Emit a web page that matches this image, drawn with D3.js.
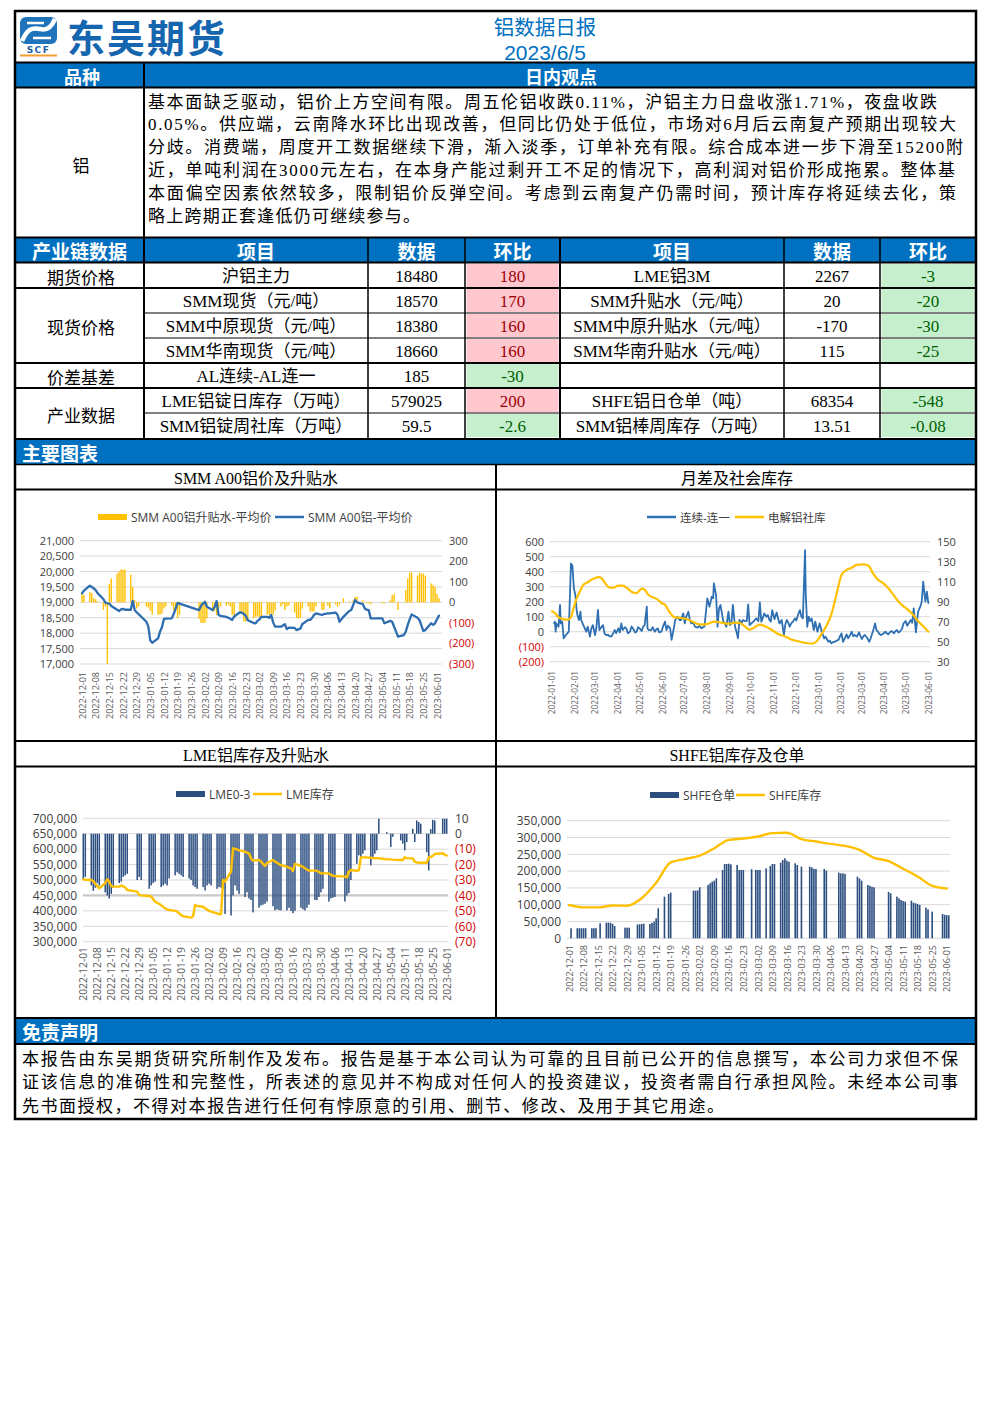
<!DOCTYPE html>
<html><head><meta charset="utf-8"><title>铝数据日报</title>
<script src="https://cdn.jsdelivr.net/npm/d3@7/dist/d3.min.js"></script>
<style>html,body{margin:0;padding:0;background:#fff;}svg{display:block}</style>
</head><body>
<svg id="page" width="992" height="1403"></svg>
<script>
// ================= DATA =================
const companyName = "东吴期货";
const reportTitle = "铝数据日报";
const reportDate = "2023/6/5";
const viewHeaders = ["品种", "日内观点"];
const viewVariety = "铝";
const viewLines = [
  "基本面缺乏驱动，铝价上方空间有限。周五伦铝收跌0.11%，沪铝主力日盘收涨1.71%，夜盘收跌",
  "0.05%。供应端，云南降水环比出现改善，但同比仍处于低位，市场对6月后云南复产预期出现较大",
  "分歧。消费端，周度开工数据继续下滑，渐入淡季，订单补充有限。综合成本进一步下滑至15200附",
  "近，单吨利润在3000元左右，在本身产能过剩开工不足的情况下，高利润对铝价形成拖累。整体基",
  "本面偏空因素依然较多，限制铝价反弹空间。考虑到云南复产仍需时间，预计库存将延续去化，策",
  "略上跨期正套逢低仍可继续参与。"
];
const tableHeaders = ["产业链数据", "项目", "数据", "环比", "项目", "数据", "环比"];
const groupLabels = ["期货价格", "现货价格", "价差基差", "产业数据"];
const groupSpans = [1, 3, 1, 2];
const itemsLeft = ["沪铝主力", "SMM现货（元/吨）", "SMM中原现货（元/吨）", "SMM华南现货（元/吨）", "AL连续-AL连一", "LME铝锭日库存（万吨）", "SMM铝锭周社库（万吨）"];
const valuesLeft = ["18480", "18570", "18380", "18660", "185", "579025", "59.5"];
const changesLeft = ["180", "170", "160", "160", "-30", "200", "-2.6"];
const itemsRight = ["LME铝3M", "SMM升贴水（元/吨）", "SMM中原升贴水（元/吨）", "SMM华南升贴水（元/吨）", "", "SHFE铝日仓单（吨）", "SMM铝棒周库存（万吨）"];
const valuesRight = ["2267", "20", "-170", "115", "", "68354", "13.51"];
const changesRight = ["-3", "-20", "-30", "-25", "", "-548", "-0.08"];
const sectionCharts = "主要图表";
const chartTitles = ["SMM A00铝价及升贴水", "月差及社会库存", "LME铝库存及升贴水", "SHFE铝库存及仓单"];
const disclaimerTitle = "免责声明";
const disclaimerLines = [
  "本报告由东吴期货研究所制作及发布。报告是基于本公司认为可靠的且目前已公开的信息撰写，本公司力求但不保",
  "证该信息的准确性和完整性，所表述的意见并不构成对任何人的投资建议，投资者需自行承担风险。未经本公司事",
  "先书面授权，不得对本报告进行任何有悖原意的引用、删节、修改、及用于其它用途。"
];

// trading calendars (weekdays minus exchange holidays)
const cnHolidays = ["2023-01-02","2023-01-23","2023-01-24","2023-01-25","2023-01-26","2023-01-27","2023-04-05","2023-05-01","2023-05-02","2023-05-03"];
const ukHolidays = ["2022-12-26","2022-12-27","2023-01-02","2023-04-07","2023-04-10","2023-05-01","2023-05-08","2023-05-29"];

// Chart 1: SMM A00 price (yuan/t) and premium, China trading days 2022-12-01 .. 2023-06-02
const c1Legend = ["SMM A00铝升贴水-平均价", "SMM A00铝-平均价"];
const c1Price = [
  // Dec
  19290,19380,19540,19500,19450,19400,19300,19100,18990,18970,18960,18880,18760,18720,18770,18790,18760,18760,19050,18750,18680,18620,
  // Jan
  18370,18220,17760,17690,17830,18050,18200,18460,18470,18480,18620,18800,18980,18960,18750,18880,
  // Feb
  18960,19020,18860,18750,18850,19040,18600,18560,18530,18500,18470,18430,18540,18680,18660,18620,18560,18420,18330,18320,
  // Mar
  18400,18450,18530,18530,18500,18590,18350,18210,18210,18250,18290,18130,18180,18170,18100,18130,18150,18300,18430,18430,18500,18600,18640,
  // Apr
  18590,18620,18640,18640,18670,18600,18370,18450,18530,18720,18750,18900,19080,19000,18940,18800,18760,18750,18480,
  // May
  18480,18320,18400,18370,18210,18050,17890,17940,18050,18270,18450,18610,18500,18430,18250,18070,18100,18320,18270,18320,
  // Jun
  18450,18570
];
const c1Premium = [
  45,35,50,45,20,15,5,-37,-20,-300,90,116,140,150,160,160,160,135,75,10,-30,-20,
  -20,-25,-40,-60,-60,-60,-55,-30,-20,-15,-37,-40,-77,-60,-80,-100,
  -100,-100,-77,-45,-40,-62,-30,-20,-15,-10,-21,-62,-62,-40,-50,-93,-93,-90,-77,-70,
  -70,-70,-70,-60,-60,-55,-60,-40,-20,-10,-37,-20,-15,-50,-77,-77,-75,-30,-20,-45,-45,-45,-20,
  -37,-37,-15,-29,-10,-21,-10,0,20,5,0,10,27,27,10,0,-5,-5,-10,
  -5,-5,10,35,40,0,-37,0,60,116,145,145,130,145,140,140,130,92,85,75,
  40,20
];
const c1LeftTicks = [17000,17500,18000,18500,19000,19500,20000,20500,21000];
const c1RightTicks = [-300,-200,-100,0,100,200,300];

// Chart 2: month spread (left) and social inventory (right, 10k t)
const c2Legend = ["连续-连一", "电解铝社库"];
const c2Spread = [
  ["2022-01-04",55],["2022-01-05",67],["2022-01-06",0],["2022-01-07",55],["2022-01-10",33],["2022-01-12",178],["2022-01-13",55],["2022-01-15",67],
  ["2022-01-17",-44],["2022-01-20",-22],["2022-01-22",-11],["2022-01-24",0],["2022-01-27",455],["2022-01-29",440],["2022-01-31",290],["2022-02-02",245],
  ["2022-02-04",133],["2022-02-05",110],["2022-02-07",78],["2022-02-09",133],["2022-02-10",78],["2022-02-13",44],["2022-02-15",22],["2022-02-17",0],
  ["2022-02-19",33],["2022-02-22",-33],["2022-02-24",22],["2022-02-26",44],["2022-03-01",-22],["2022-03-03",33],["2022-03-05",145],["2022-03-07",11],
  ["2022-03-10",33],["2022-03-12",44],["2022-03-14",-11],["2022-03-16",-22],["2022-03-19",-22],["2022-03-21",-30],["2022-03-23",-33],["2022-03-25",-20],
  ["2022-03-28",11],["2022-03-30",-10],["2022-04-02",22],["2022-04-04",-5],["2022-04-06",55],["2022-04-08",11],["2022-04-11",30],["2022-04-13",22],
  ["2022-04-15",-10],["2022-04-18",0],["2022-04-20",35],["2022-04-22",22],["2022-04-25",-5],["2022-04-27",0],["2022-04-29",30],["2022-05-01",22],
  ["2022-05-04",5],["2022-05-06",33],["2022-05-08",44],["2022-05-11",167],["2022-05-12",20],["2022-05-14",11],["2022-05-17",11],["2022-05-19",30],
  ["2022-05-22",0],["2022-05-24",15],["2022-05-26",22],["2022-05-28",-5],["2022-05-31",0],["2022-06-02",30],["2022-06-05",67],["2022-06-07",11],
  ["2022-06-09",40],["2022-06-12",22],["2022-06-14",-55],["2022-06-17",22],["2022-06-19",78],["2022-06-22",100],["2022-06-25",78],["2022-06-27",78],
  ["2022-06-30",122],["2022-07-02",55],["2022-07-04",100],["2022-07-07",133],["2022-07-09",78],["2022-07-11",55],["2022-07-14",60],["2022-07-16",33],
  ["2022-07-20",27],["2022-07-22",40],["2022-07-25",22],["2022-07-27",30],["2022-07-29",33],["2022-08-02",222],["2022-08-05",167],["2022-08-08",233],
  ["2022-08-10",222],["2022-08-11",322],["2022-08-14",244],["2022-08-16",33],["2022-08-18",155],["2022-08-20",178],["2022-08-24",67],["2022-08-26",55],
  ["2022-08-28",33],["2022-08-31",133],["2022-09-02",44],["2022-09-04",55],["2022-09-06",178],["2022-09-09",33],["2022-09-11",0],["2022-09-13",-44],
  ["2022-09-15",78],["2022-09-18",60],["2022-09-20",78],["2022-09-23",70],["2022-09-25",71],["2022-09-27",182],["2022-09-29",44],["2022-10-04",67],
  ["2022-10-08",89],["2022-10-11",70],["2022-10-13",196],["2022-10-15",67],["2022-10-17",90],["2022-10-19",122],["2022-10-22",100],["2022-10-24",111],
  ["2022-10-26",80],["2022-10-28",67],["2022-10-30",144],["2022-11-02",84],["2022-11-05",128],["2022-11-07",90],["2022-11-09",55],["2022-11-12",78],
  ["2022-11-15",-22],["2022-11-17",50],["2022-11-19",78],["2022-11-21",60],["2022-11-23",33],["2022-11-25",55],["2022-11-28",70],["2022-11-30",89],
  ["2022-12-02",75],["2022-12-05",122],["2022-12-07",144],["2022-12-09",100],["2022-12-11",89],["2022-12-14",544],["2022-12-15",244],["2022-12-17",33],
  ["2022-12-19",100],["2022-12-21",70],["2022-12-23",89],["2022-12-26",11],["2022-12-28",67],["2022-12-31",0],["2023-01-03",55],["2023-01-06",0],
  ["2023-01-09",-44],["2023-01-11",-33],["2023-01-13",-50],["2023-01-15",-67],["2023-01-17",-60],["2023-01-19",-78],["2023-01-21",-70],["2023-01-24",-67],
  ["2023-01-26",-60],["2023-01-29",-55],["2023-01-31",-30],["2023-02-02",-11],["2023-02-04",-67],["2023-02-07",-40],["2023-02-09",-18],["2023-02-11",-44],
  ["2023-02-14",-20],["2023-02-16",0],["2023-02-18",-30],["2023-02-20",-22],["2023-02-23",-33],["2023-02-26",-4],["2023-02-28",-30],["2023-03-02",-49],
  ["2023-03-04",-30],["2023-03-06",-22],["2023-03-09",-40],["2023-03-12",-67],["2023-03-14",-44],["2023-03-18",18],["2023-03-20",55],["2023-03-22",10],
  ["2023-03-24",0],["2023-03-26",-15],["2023-03-28",-22],["2023-04-01",-11],["2023-04-03",0],["2023-04-05",-10],["2023-04-07",-18],["2023-04-10",0],
  ["2023-04-12",4],["2023-04-15",-11],["2023-04-17",5],["2023-04-19",11],["2023-04-21",-5],["2023-04-23",0],["2023-04-26",20],["2023-04-28",55],
  ["2023-05-01",71],["2023-05-03",40],["2023-05-05",55],["2023-05-08",78],["2023-05-10",60],["2023-05-12",155],["2023-05-15",-4],["2023-05-18",133],
  ["2023-05-21",167],["2023-05-23",200],["2023-05-25",333],["2023-05-28",200],["2023-05-30",267],["2023-06-01",190]
];
const c2Stock = [
  ["2022-01-01",80.4],["2022-01-05",78.7],["2022-01-10",74.4],["2022-01-14",73],["2022-01-19",72],["2022-01-23",72],["2022-01-27",74.4],["2022-01-30",82],
  ["2022-02-04",93.6],["2022-02-08",100],["2022-02-13",107],["2022-02-19",109.5],["2022-02-24",112],["2022-03-01",113.5],["2022-03-05",114.5],["2022-03-10",113.5],
  ["2022-03-14",109.5],["2022-03-21",104],["2022-03-26",104],["2022-04-02",106],["2022-04-08",106],["2022-04-15",103],["2022-04-20",100],["2022-04-27",98.6],
  ["2022-05-04",103],["2022-05-08",102],["2022-05-13",97],["2022-05-22",93.6],["2022-05-26",92],["2022-05-31",88.7],["2022-06-05",87],["2022-06-09",82],
  ["2022-06-14",77],["2022-06-18",74.4],["2022-06-27",73.7],["2022-07-07",72],["2022-07-16",68.8],["2022-07-25",67],["2022-08-01",67.5],["2022-08-12",70],
  ["2022-08-21",69],["2022-08-31",68],["2022-09-09",69],["2022-09-15",68.8],["2022-09-22",65.5],["2022-09-29",62],["2022-10-06",64.5],["2022-10-13",67],
  ["2022-10-20",65.5],["2022-10-29",62],["2022-11-07",57.8],["2022-11-16",55.5],["2022-11-25",52.2],["2022-12-04",50.5],["2022-12-14",48.9],["2022-12-23",48],
  ["2022-12-30",50.5],["2023-01-05",57],["2023-01-12",65.5],["2023-01-19",77],["2023-01-26",97],["2023-02-02",116.8],["2023-02-09",121.8],["2023-02-16",124],
  ["2023-02-23",126.8],["2023-03-04",127.4],["2023-03-11",126],["2023-03-17",118.5],["2023-03-24",112],["2023-03-31",108.6],["2023-04-07",103.6],["2023-04-14",97],
  ["2023-04-21",90.3],["2023-04-28",85.4],["2023-05-04",82],["2023-05-11",77],["2023-05-18",70.4],["2023-05-25",65.5],["2023-06-01",60]
];
const c2LeftTicks = [-200,-100,0,100,200,300,400,500,600];
const c2RightTicks = [30,50,70,90,110,130,150];

// Chart 3: LME stock (left, t) and LME 0-3 spread (right, $/t), LME trading days 2022-12-01 .. 2023-06-01
const c3Legend = ["LME0-3", "LME库存"];
const c3Spread = [
  -30,-28,-33.5,-37,-35,-32,-33.5,-38,-40,-42,-39,-35,-32,-31,-28,-27,-26,-30,-28,-30,
  -35.7,-33.5,-32,-31,-34.6,-33.5,-32.4,-33.5,-29,-27,-25,-26,-27,-28,-29,-30,-33.5,-34.6,-35.7,-34.6,-36.8,
  -33.5,-32.4,-33.5,-35.7,-34.6,-35,-35.7,-52,-53,-40,-33.5,-36.8,-39,-41,-38,-42,-43,-51,-48,-46.5,
  -46,-45.4,-44,-47,-49.7,-49,-49.5,-49.7,-49.7,-48,-50,-51.5,-50,-48,-49,-49.7,-48,-46,-43,-43,-41,-38,-35.7,
  -44,-42,-41.5,-41,-44,-40,-38.5,-30,-19.5,-14,-15,-13,-10.8,-20.5,-15,-13,-10.8,9.7,
  1,0,-8.6,-2,-4.3,-6.5,-10.8,-5.4,3.2,-5.4,8.6,7.6,6.5,-12,-23.8,3,9,8.6,9.7,9.7,
  9.7
];
const c3Stock = [
  502000,501000,500000,496700,488000,480000,473000,490000,502000,494600,480000,478400,478400,481600,479000,476000,467600,462200,451400,450000,
  448100,446000,438000,429700,418900,413000,408100,405000,402700,400000,397300,392000,386500,383000,378900,378000,383200,418900,416000,413500,408100,
  404000,400000,397300,392000,389700,389000,500000,494600,527000,602700,601000,599000,596000,592000,588000,586500,570300,562700,565000,560000,
  552000,545400,555000,565000,560000,556000,552000,548000,543200,540000,537800,529200,552000,546000,542000,538000,534000,530300,530300,530300,526000,521600,521600,
  521600,516200,514000,513000,510800,508600,527000,532400,530000,531000,573500,573500,573500,572000,571000,570300,570300,570300,
  567000,567000,567000,566000,565000,565000,573500,571000,570000,559500,557000,556000,556000,556000,573500,575000,578000,584300,586500,582000,
  579025
];
const c3LeftTicks = [300000,350000,400000,450000,500000,550000,600000,650000,700000];
const c3RightTicks = [-70,-60,-50,-40,-30,-20,-10,0,10];

// Chart 4: SHFE warrants (daily, China trading days) and SHFE stock (weekly, Thursdays)
const c4Legend = ["SHFE仓单", "SHFE库存"];
const c4Receipts = [
  null,29800,30000,30000,30000,30000,30000,30000,30000,30000,null,44600,46600,46600,46000,43000,36700,null,null,31700,31700,31700,
  41000,41700,42600,43600,42600,46000,49600,59500,89300,124000,null,132000,136000,null,141900,141900,
  142500,151800,null,158700,163700,168600,171600,178600,203400,221200,221200,222000,220000,218300,203400,203400,203400,null,205400,null,
  203400,203400,203400,208300,null,215300,221200,221200,225200,233100,238100,231200,228000,223200,218000,null,213300,null,213300,211000,207000,206300,null,
  206300,201400,null,null,195400,193400,193400,191500,null,null,null,183500,178000,171600,158700,156000,153500,151800,null,
  137900,134000,124000,119000,114000,111000,109100,112000,106000,104200,102000,99200,91300,86000,null,79400,null,null,72400,70000,
  68902,68354
];
const c4Stock = [99000,92000,92000,97500,97000,119000,165000,226000,236000,246000,268000,293000,297000,303000,313000,314000,295000,288000,281000,275000,263000,239000,230000,207000,184000,156000,148000];
const c4LeftTicks = [0,50000,100000,150000,200000,250000,300000,350000];

// ================= RENDER =================
const D = s => new Date(s + "T00:00:00Z");
const fmtISO = d3.utcFormat("%Y-%m-%d");
function tradingDays(start, end, holidays) {
  const hs = new Set(holidays);
  return d3.utcDay.range(D(start), d3.utcDay.offset(D(end), 1))
    .filter(d => d.getUTCDay() % 6 !== 0 && !hs.has(fmtISO(d)));
}
const cnDays = tradingDays("2022-12-01", "2023-06-02", cnHolidays);
const ukDays = tradingDays("2022-12-01", "2023-06-01", ukHolidays);
const weeklyThu = d3.utcThursday.range(D("2022-12-01"), D("2023-06-02"));
const months2 = d3.utcMonth.range(D("2022-01-01"), D("2023-06-02"));

const svg = d3.select("#page");
const CJK = "'Noto Sans CJK SC','Noto Sans',sans-serif";
const SERIF = "'Liberation Serif','Noto Sans CJK SC',serif";
const UI = "'Open Sans','Noto Sans CJK SC',sans-serif";
const BLUE = "#0070C0";
const YEL = "#FFC000";
const NEG = "#D40000";

svg.append("rect").attr("width", 992).attr("height", 1403).attr("fill", "#fff");

function txt(g, x, y, s, o = {}) {
  const t = g.append("text").attr("x", x).attr("y", y).text(s)
    .attr("font-family", o.ff || SERIF).attr("font-size", o.fs || 17)
    .attr("fill", o.fill || "#000").attr("text-anchor", o.anchor || "middle")
    .attr("dominant-baseline", "central");
  if (o.fw) t.attr("font-weight", o.fw);
  if (o.len) t.attr("textLength", o.len).attr("lengthAdjust", "spacing");
  return t;
}
function hline(y, x1, x2, w) { svg.append("line").attr("x1", x1).attr("x2", x2).attr("y1", y).attr("y2", y).attr("stroke", "#000").attr("stroke-width", w); }
function vline(x, y1, y2, w) { svg.append("line").attr("x1", x).attr("x2", x).attr("y1", y1).attr("y2", y2).attr("stroke", "#000").attr("stroke-width", w); }

// ---- blue bands
[[63, 87], [238, 262], [440, 464], [1019, 1043]].forEach(([a, b]) =>
  svg.append("rect").attr("x", 15).attr("y", a).attr("width", 961).attr("height", b - a).attr("fill", BLUE));

// ---- header / logo
const logo = svg.append("g");
logo.append("rect").attr("x", 20).attr("y", 17).attr("width", 37).attr("height", 27).attr("rx", 6).attr("fill", "#1E73BA");
logo.append("path").attr("d", "M22,41 C27,30 31,27 40,29 C48,31 52,26 55,19").attr("fill", "none").attr("stroke", "#fff").attr("stroke-width", 4.5);
logo.append("path").attr("d", "M27,23 L44,23").attr("stroke", "#fff").attr("stroke-width", 2.5);
logo.append("path").attr("d", "M33,38 L51,38").attr("stroke", "#fff").attr("stroke-width", 2.5);
txt(logo, 38.5, 49.5, "SCF", { ff: "'DejaVu Sans',sans-serif", fs: 9, fw: 700, fill: "#1E5FA8" }).attr("letter-spacing", 1.5);
logo.append("rect").attr("x", 20).attr("y", 54.5).attr("width", 37).attr("height", 2).attr("fill", "#F0A030");
txt(svg, 147, 35.5, companyName, { ff: CJK, fs: 38, fw: 700, fill: "#1566AE" }).attr("letter-spacing", 2);
txt(svg, 545, 25.5, reportTitle, { ff: CJK, fs: 20.5, fill: BLUE });
txt(svg, 545, 52.5, reportDate, { ff: "'Liberation Sans','Noto Sans',sans-serif", fs: 21, fill: BLUE });

// ---- view section
txt(svg, 82, 76, viewHeaders[0], { ff: CJK, fs: 18, fw: 700, fill: "#fff" });
txt(svg, 561, 76, viewHeaders[1], { ff: CJK, fs: 18, fw: 700, fill: "#fff" });
txt(svg, 81, 164, viewVariety, { ff: CJK, fs: 17 });
const viewEnds = [937, 956, 963, 955, 956, 420];
viewLines.forEach((s, i) => txt(svg, 148, 102 + i * 22.8, s, { ff: SERIF, fs: 17, anchor: "start", len: viewEnds[i] - 148 }));

// ---- data table
const colX = [15, 144, 368, 465, 560, 784, 880, 976];
const rowY = [263, 288, 313, 338, 363, 388, 413, 438];
tableHeaders.forEach((h, i) => txt(svg, (colX[i] + colX[i + 1]) / 2, 250, h, { ff: CJK, fs: 19, fw: 700, fill: "#fff" }));
function fillChg(col, i, v) {
  if (v === "") return;
  const pos = !v.startsWith("-");
  svg.append("rect").attr("x", colX[col] + 1.5).attr("y", rowY[i] + 1).attr("width", colX[col + 1] - colX[col] - 3).attr("height", rowY[i + 1] - rowY[i] - 2)
    .attr("fill", pos ? "#FFC7CE" : "#C6EFCE");
  txt(svg, (colX[col] + colX[col + 1]) / 2, (rowY[i] + rowY[i + 1]) / 2 + 1, v, { fill: pos ? "#9C0006" : "#006100" });
}
itemsLeft.forEach((s, i) => {
  const cy = (rowY[i] + rowY[i + 1]) / 2 + 1;
  txt(svg, (colX[1] + colX[2]) / 2, cy, s);
  txt(svg, (colX[2] + colX[3]) / 2, cy, valuesLeft[i]);
  fillChg(3, i, changesLeft[i]);
  txt(svg, (colX[4] + colX[5]) / 2, cy, itemsRight[i]);
  txt(svg, (colX[5] + colX[6]) / 2, cy, valuesRight[i]);
  fillChg(6, i, changesRight[i]);
});
let r0 = 0;
groupLabels.forEach((g, i) => {
  const a = rowY[r0], b = rowY[r0 + groupSpans[i]];
  txt(svg, 81, (a + b) / 2 + 1, g, { ff: CJK, fs: 17 });
  r0 += groupSpans[i];
});

// ---- section bands text
txt(svg, 22, 452, sectionCharts, { ff: CJK, fs: 19, fw: 700, fill: "#fff", anchor: "start" });
txt(svg, 22, 1031, disclaimerTitle, { ff: CJK, fs: 19, fw: 700, fill: "#fff", anchor: "start" });
const discEnds = [958, 958, 724];
disclaimerLines.forEach((s, i) => txt(svg, 22, 1059 + i * 23.5, s, { ff: SERIF, fs: 17, anchor: "start", len: discEnds[i] - 22 }));

// ---- chart titles
txt(svg, 256, 478, chartTitles[0], { fs: 16 });
txt(svg, 737, 478, chartTitles[1], { fs: 16 });
txt(svg, 256, 755, chartTitles[2], { fs: 16 });
txt(svg, 737, 755, chartTitles[3], { fs: 16 });

// ---- chart helpers
function grid(g, y, ticks, x1, x2, strong) {
  g.append("g").selectAll("line").data(ticks).join("line")
    .attr("x1", x1).attr("x2", x2).attr("y1", d => y(d)).attr("y2", d => y(d))
    .attr("stroke", d => strong && d === strong ? "#C8C8C8" : "#D9D9D9")
    .attr("stroke-width", d => strong && d === strong ? 2.2 : 1);
}
function yAxis(g, scale, ticks, x, side, fmt, fs, colorFn) {
  const ax = (side === "left" ? d3.axisLeft(scale) : d3.axisRight(scale))
    .tickValues(ticks).tickSize(0).tickPadding(side === "left" ? 6 : 7).tickFormat(fmt);
  const a = g.append("g").attr("transform", `translate(${x},0)`).call(ax);
  a.select(".domain").remove();
  a.attr("font-family", UI).attr("font-size", fs);
  a.selectAll("text").attr("fill", d => colorFn ? colorFn(d) : "#404040");
}
function dateAxis(g, scale, ticks, y, fs, fmt) {
  const a = g.append("g").attr("transform", `translate(0,${y})`)
    .call(d3.axisBottom(scale).tickValues(ticks).tickSize(0).tickFormat(fmt || d3.utcFormat("%Y-%m-%d")));
  a.select(".domain").remove();
  a.attr("font-family", UI).attr("font-size", fs);
  a.selectAll("text").attr("transform", "rotate(-90)").attr("text-anchor", "end")
    .attr("x", 0).attr("y", 0).attr("dy", "0.35em").attr("fill", "#595959");
}
const acct = v => v < 0 ? `(${-v})` : `${v}`;
const acctColor = v => v < 0 ? NEG : "#404040";
function legendRect(g, x, y, color, label, fs) {
  g.append("rect").attr("x", x).attr("y", y - 3).attr("width", 29).attr("height", 6).attr("fill", color);
  txt(g, x + 33, y, label, { ff: UI, fs: fs, anchor: "start", fill: "#404040" });
}
function legendLine(g, x, y, color, label, fs) {
  g.append("line").attr("x1", x).attr("x2", x + 29).attr("y1", y).attr("y2", y).attr("stroke", color).attr("stroke-width", 2.5);
  txt(g, x + 33, y, label, { ff: UI, fs: fs, anchor: "start", fill: "#404040" });
}
function bars(g, dates, vals, x, y, w, color) {
  const pts = dates.map((d, i) => [d, vals[i]]).filter(p => p[1] != null);
  g.append("g").selectAll("rect").data(pts).join("rect")
    .attr("x", p => x(p[0]) - w / 2).attr("width", w)
    .attr("y", p => Math.min(y(0), y(p[1]))).attr("height", p => Math.max(0.3, Math.abs(y(p[1]) - y(0))))
    .attr("fill", color);
}
function linePath(g, pts, x, y, color, w, curve) {
  g.append("path").datum(pts)
    .attr("d", d3.line().x(p => x(p[0])).y(p => y(p[1])).curve(curve || d3.curveLinear))
    .attr("fill", "none").attr("stroke", color).attr("stroke-width", w)
    .attr("stroke-linejoin", "round").attr("stroke-linecap", "round");
}

// ---- Chart 1
{
  const g = svg.append("g");
  const x = d3.scaleUtc().domain([D("2022-12-01"), D("2023-06-01")]).range([82, 437]);
  const yL = d3.scaleLinear().domain([17000, 21000]).range([664, 540.7]);
  const yR = d3.scaleLinear().domain([-300, 300]).range([664, 540.7]);
  grid(g, yL, c1LeftTicks, 80, 442);
  bars(g, cnDays, c1Premium, x, yR, 1.4, YEL);
  linePath(g, cnDays.map((d, i) => [d, c1Price[i]]), x, yL, "#2E6DB0", 2.3);
  yAxis(g, yL, c1LeftTicks, 80, "left", d3.format(","), 11);
  yAxis(g, yR, c1RightTicks, 442, "right", acct, 11, acctColor);
  dateAxis(g, x, weeklyThu, 672, 9);
  legendRect(g, 98, 517, YEL, c1Legend[0], 12);
  legendLine(g, 275, 517, "#2E6DB0", c1Legend[1], 12);
}

// ---- Chart 2
{
  const g = svg.append("g");
  const x = d3.scaleUtc().domain([D("2022-01-01"), D("2023-06-01")]).range([552, 928.3]);
  const yL = d3.scaleLinear().domain([-200, 600]).range([661.7, 541.7]);
  const yR = d3.scaleLinear().domain([30, 150]).range([661.7, 541.7]);
  grid(g, yL, c2LeftTicks, 550, 930);
  linePath(g, c2Spread.map(p => [D(p[0]), p[1]]), x, yL, "#2E70B2", 1.8);
  linePath(g, c2Stock.map(p => [D(p[0]), p[1]]), x, yR, YEL, 2.2, d3.curveMonotoneX);
  yAxis(g, yL, c2LeftTicks, 550, "left", acct, 11, acctColor);
  yAxis(g, yR, c2RightTicks, 930, "right", d => `${d}`, 11);
  dateAxis(g, x, months2, 671, 8.3);
  legendLine(g, 647, 517, "#2E70B2", c2Legend[0], 11.5);
  legendLine(g, 735, 517, YEL, c2Legend[1], 11.5);
}

// ---- Chart 3
{
  const g = svg.append("g");
  const x = d3.scaleUtc().domain([D("2022-12-01"), D("2023-06-01")]).range([83.3, 446.7]);
  const yL = d3.scaleLinear().domain([300000, 700000]).range([941.7, 818.3]);
  const yR = d3.scaleLinear().domain([-70, 10]).range([941.7, 818.3]);
  grid(g, yL, c3LeftTicks, 83, 448, 450000);
  bars(g, ukDays, c3Spread, x, yR, 1.5, "#2C4F80");
  linePath(g, ukDays.map((d, i) => [d, c3Stock[i]]), x, yL, YEL, 2.4);
  yAxis(g, yL, c3LeftTicks, 83, "left", d3.format(","), 12);
  yAxis(g, yR, c3RightTicks, 448, "right", acct, 12, acctColor);
  dateAxis(g, x, weeklyThu, 947, 10.3);
  legendRect(g, 176, 794, "#2C4F80", c3Legend[0], 12);
  legendLine(g, 253, 794, YEL, c3Legend[1], 12);
}

// ---- Chart 4
{
  const g = svg.append("g");
  const x = d3.scaleUtc().domain([D("2022-12-01"), D("2023-06-01")]).range([569, 946.7]);
  const y = d3.scaleLinear().domain([0, 350000]).range([938.3, 820.7]);
  grid(g, y, c4LeftTicks, 567, 950);
  bars(g, cnDays, c4Receipts, x, y, 1.6, "#2C4F80");
  linePath(g, weeklyThu.map((d, i) => [d, c4Stock[i]]), x, y, YEL, 2.4, d3.curveMonotoneX);
  yAxis(g, y, c4LeftTicks, 567, "left", d3.format(","), 12);
  dateAxis(g, x, weeklyThu, 945, 9);
  legendRect(g, 650, 795, "#2C4F80", c4Legend[0], 12);
  legendLine(g, 736, 795, YEL, c4Legend[1], 12);
}

// ---- grid lines of the report (drawn last, on top)
hline(62.5, 15, 976, 2);
hline(87.5, 15, 976, 2);
hline(237.5, 15, 976, 2);
hline(262.5, 15, 976, 2);
hline(288, 15, 976, 2);
hline(313, 144, 976, 1);
hline(338, 144, 976, 1);
hline(363, 15, 976, 2);
hline(388, 15, 976, 2);
hline(413, 144, 976, 1);
hline(439, 15, 976, 2);
hline(464.5, 15, 976, 1.5);
hline(489.5, 15, 976, 2);
hline(741, 15, 976, 2);
hline(766.5, 15, 976, 2);
hline(1018, 15, 976, 2);
hline(1044, 15, 976, 2);
vline(144, 62, 439, 2);
[368, 465, 784, 880].forEach(x => vline(x, 237, 439, 1.5));
vline(560, 237, 439, 2);
vline(496, 464, 1018, 2);
svg.append("rect").attr("x", 15).attr("y", 11).attr("width", 961).attr("height", 1108)
  .attr("fill", "none").attr("stroke", "#000").attr("stroke-width", 2.5);
</script>
</body></html>
